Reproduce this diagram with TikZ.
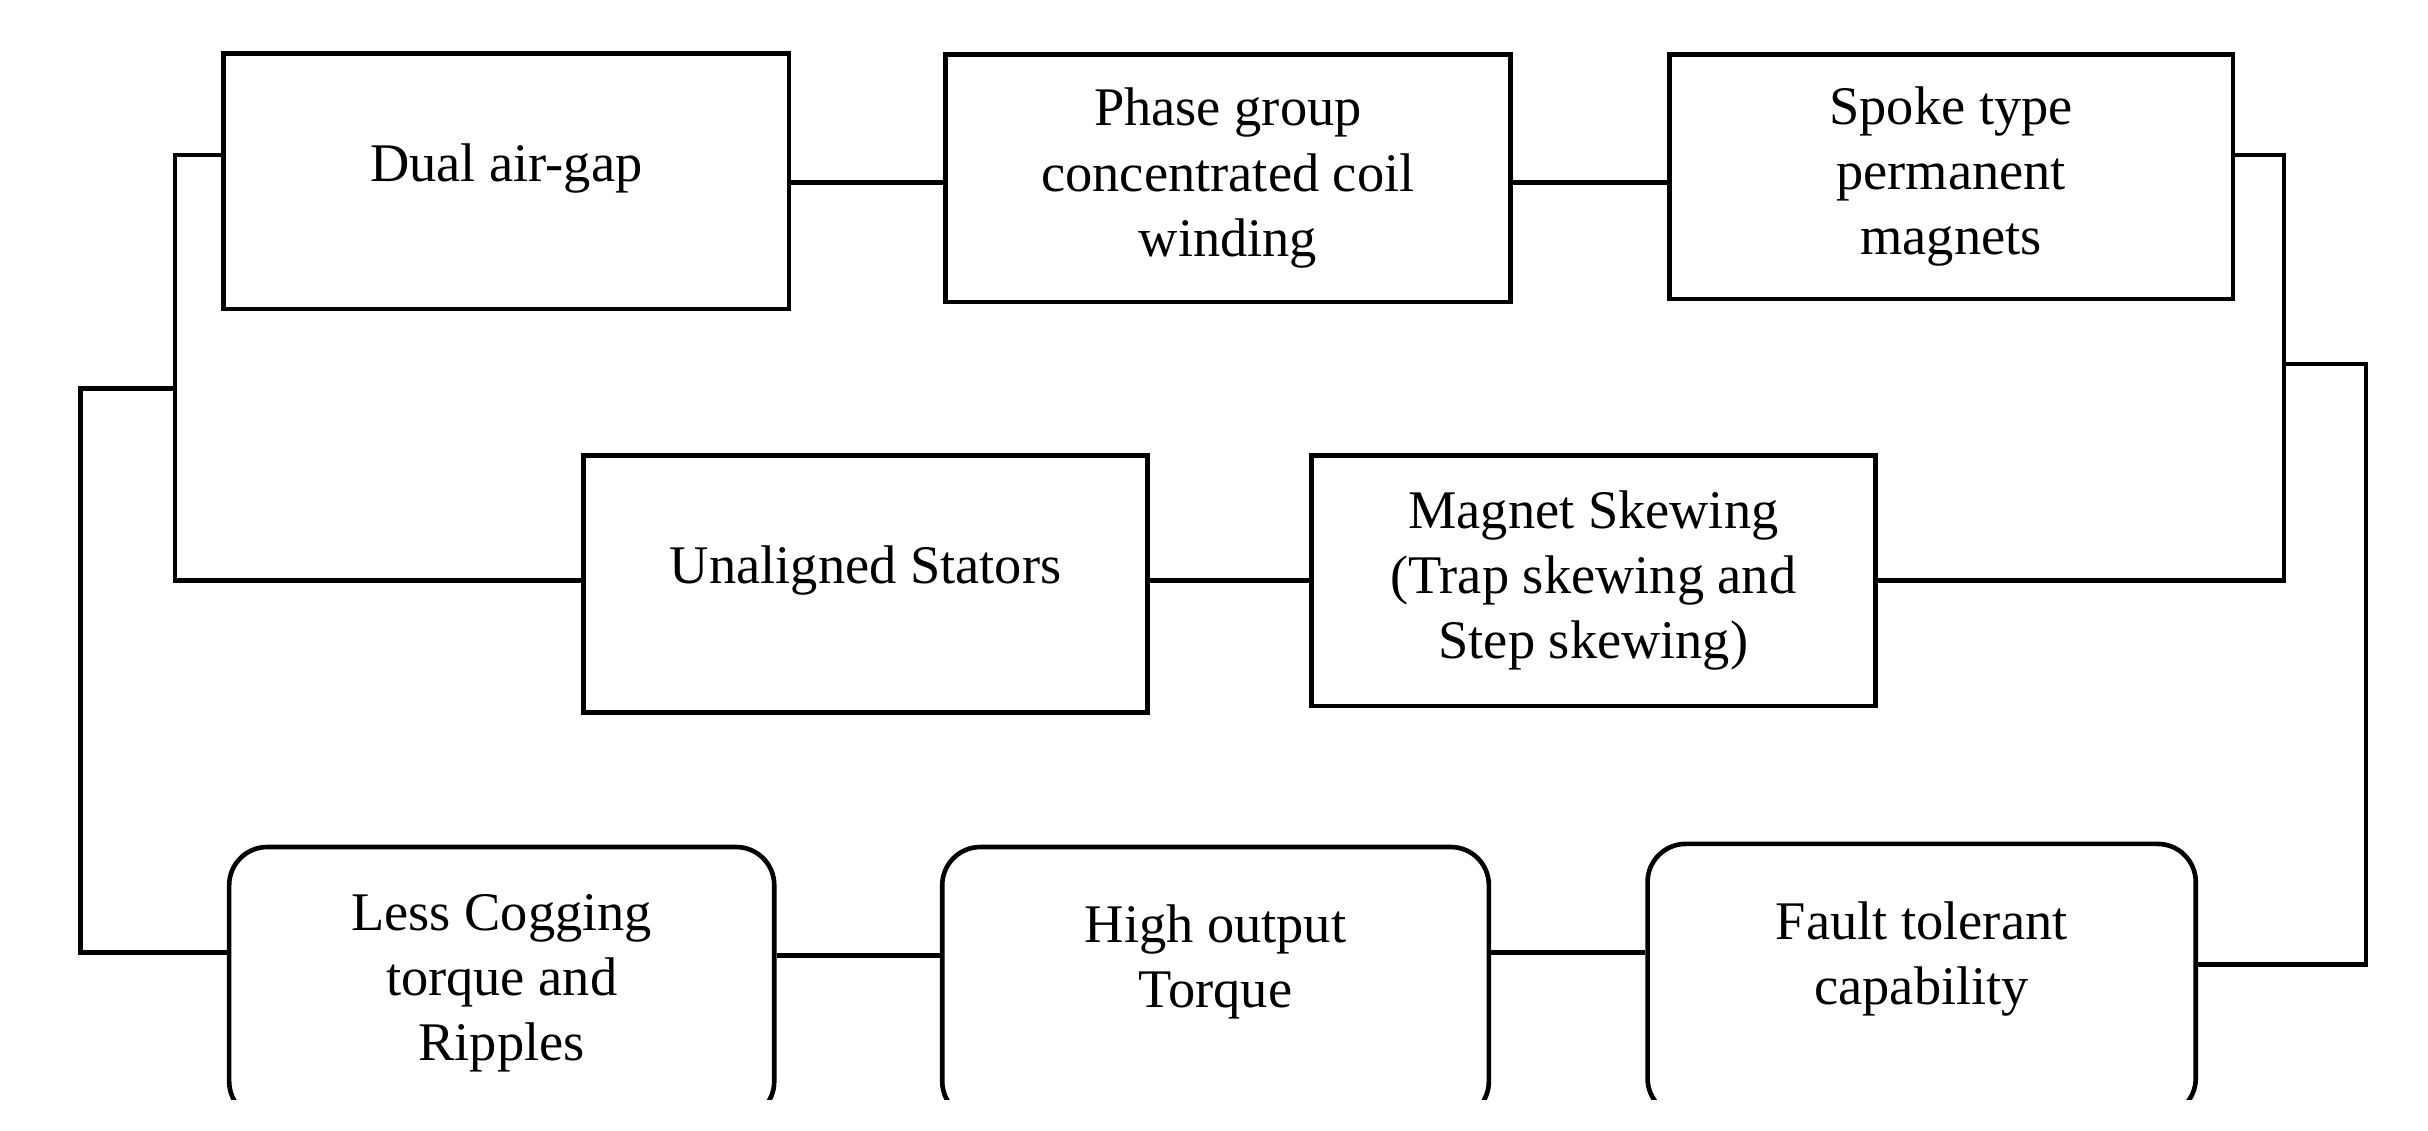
\documentclass[tikz,border=0pt]{standalone}
\usepackage{fontspec}
\setmainfont{Liberation Serif}
\begin{document}
\begin{tikzpicture}[x=0.02cm,y=-0.02cm,
  box/.style={draw, line width=1.7pt, align=center, inner sep=0pt,
    font=\fontsize{20}{24}\selectfont},
  rbox/.style={box, rounded corners=14pt},
  link/.style={line width=1.7pt}]
\useasboundingbox (0,0) rectangle (1568,730);
\clip (0,0) rectangle (1568,710);
\node[box, minimum width=365*0.02cm, minimum height=165*0.02cm] (dual) at (327,117) {Dual air-gap\\[-10pt]};
\node[box, minimum width=365*0.02cm, minimum height=160*0.02cm] (phase) at (793,115) {Phase group\\concentrated coil\\winding};
\node[box, minimum width=364*0.02cm, minimum height=158*0.02cm] (spoke) at (1260,114) {Spoke type\\permanent\\magnets};
\node[box, minimum width=364*0.02cm, minimum height=166*0.02cm] (unal) at (559,377) {Unaligned Stators\\[-10pt]};
\node[box, minimum width=364*0.02cm, minimum height=162*0.02cm] (skew) at (1029,375) {Magnet Skewing\\(Trap skewing and\\Step skewing)};
\node[rbox, minimum width=352*0.02cm, minimum height=176*0.02cm] (less) at (324,635) {Less Cogging\\torque and\\Ripples};
\node[rbox, minimum width=353*0.02cm, minimum height=176*0.02cm] (high) at (785,635) {High output\\Torque\\[-4pt]};
\node[rbox, minimum width=354*0.02cm, minimum height=176*0.02cm] (fault) at (1241,633) {Fault tolerant\\capability\\[-4pt]};
\coordinate (lj) at (113,251);
\coordinate (rj) at (1475,235);
\draw[link] (dual.east |- 0,118) -- (phase.west |- 0,118);
\draw[link] (phase.east |- 0,118) -- (spoke.west |- 0,118);
\draw[link] (dual.west |- 0,100) -| (113,375) -- (unal.west |- 0,375);
\draw[link] (unal.east |- 0,375) -- (skew.west |- 0,375);
\draw[link] (skew.east |- 0,375) -| (1475,100) -- (spoke.east |- 0,100);
\draw[link] (rj) -- (1528,235) |- (fault.east |- 0,623);
\draw[link] (lj) -- (52,251) |- (less.west |- 0,615);
\draw[link] (less.east |- 0,617) -- (high.west |- 0,617);
\draw[link] (high.east |- 0,615) -- (fault.west |- 0,615);
\end{tikzpicture}
\end{document}
